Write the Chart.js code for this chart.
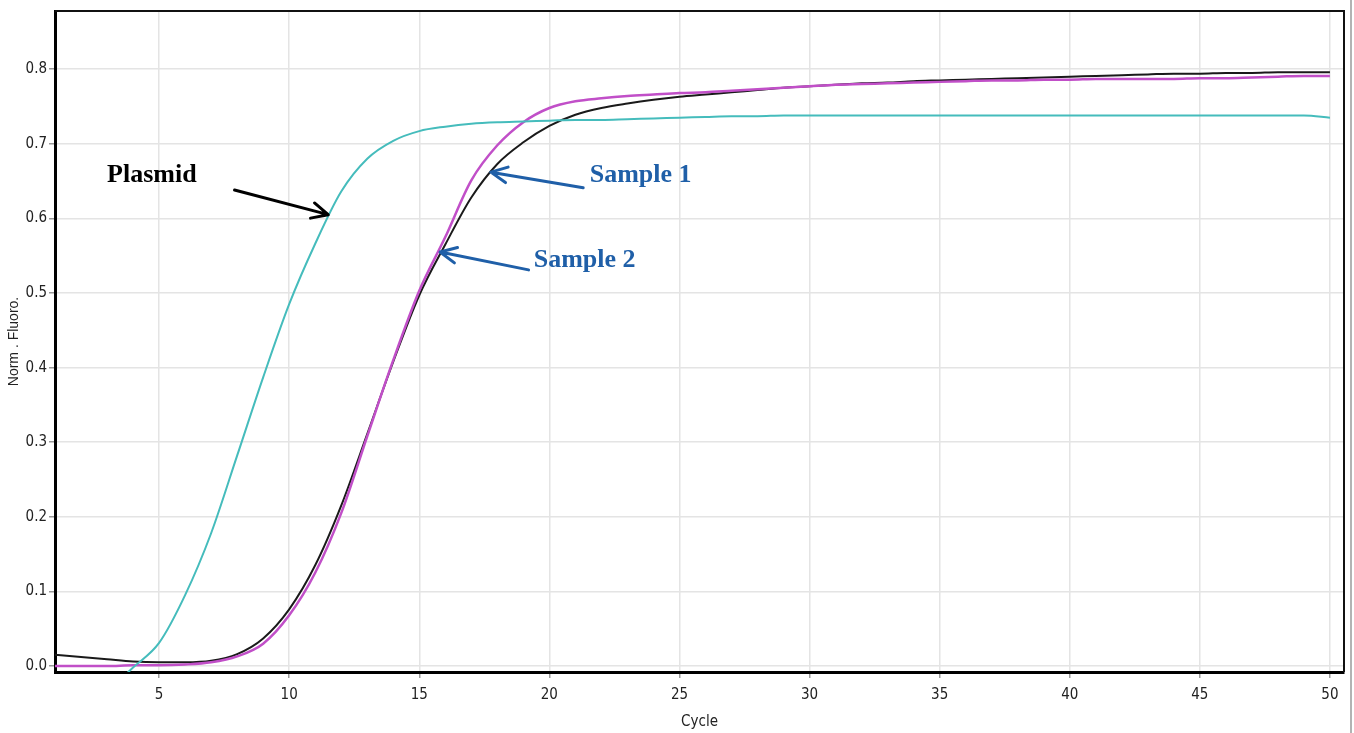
<!DOCTYPE html>
<html>
<head>
<meta charset="utf-8">
<script src="https://cdn.jsdelivr.net/npm/chart.js@4.4.1/dist/chart.umd.min.js"></script>
<style>
  html, body { margin: 0; padding: 0; background: #fff; }
  #wrap { width: 1354px; height: 733px; position: relative; }
</style>
</head>
<body>
<div id="wrap"><canvas id="qpcrChart"></canvas></div>
<script>
const cycles = [];
for (let c = 1; c <= 50; c++) cycles.push(c);

// one value per cycle
const plasmid = [
  null, null, -0.035, -0.002, 0.031, 0.095, 0.178, 0.282, 0.387, 0.485,
  0.566, 0.636, 0.680, 0.704, 0.717, 0.723, 0.727, 0.729, 0.730, 0.731,
  0.732, 0.732, 0.733, 0.734, 0.735, 0.736, 0.737, 0.737, 0.738, 0.738,
  0.738, 0.738, 0.738, 0.738, 0.738, 0.738, 0.738, 0.738, 0.738, 0.738,
  0.738, 0.738, 0.738, 0.738, 0.738, 0.738, 0.738, 0.738, 0.738, 0.735
];
const sample1 = [
  0.015, 0.012, 0.009, 0.006, 0.005, 0.005, 0.007, 0.016, 0.037, 0.076,
  0.135, 0.215, 0.311, 0.408, 0.497, 0.565, 0.628, 0.673, 0.702, 0.724,
  0.739, 0.748, 0.754, 0.759, 0.763, 0.766, 0.769, 0.772, 0.775, 0.777,
  0.779, 0.781, 0.782, 0.784, 0.785, 0.786, 0.787, 0.788, 0.789, 0.790,
  0.791, 0.792, 0.793, 0.794, 0.794, 0.795, 0.795, 0.796, 0.796, 0.796
];
const sample2 = [
  0.000, 0.000, 0.000, 0.001, 0.001, 0.002, 0.005, 0.013, 0.030, 0.068,
  0.125, 0.205, 0.308, 0.410, 0.503, 0.575, 0.651, 0.698, 0.729, 0.748,
  0.757, 0.761, 0.764, 0.766, 0.768, 0.769, 0.771, 0.773, 0.775, 0.777,
  0.779, 0.780, 0.781, 0.782, 0.783, 0.784, 0.785, 0.785, 0.786, 0.786,
  0.787, 0.787, 0.787, 0.787, 0.788, 0.788, 0.789, 0.790, 0.791, 0.791
];

// labels with arrows, placed in data units (cycle, fluorescence)
const notes = [
  { text: 'Plasmid',  color: '#000000', at: [3.0, 0.658],   from: [7.9, 0.638],  to: [11.5, 0.605] },
  { text: 'Sample 1', color: '#1f5fa8', at: [21.55, 0.658], from: [21.3, 0.641], to: [17.75, 0.662] },
  { text: 'Sample 2', color: '#1f5fa8', at: [19.4, 0.544],  from: [19.2, 0.531], to: [15.8, 0.555] }
];

const pts = arr => cycles.map((c, i) => ({ x: c, y: arr[i] }));

const tickFont = { family: "'Liberation Sans Narrow', 'DejaVu Sans Condensed', Arial, sans-serif", size: 15 };

const notesPlugin = {
  id: 'notes',
  afterDatasetsDraw(chart) {
    const { ctx, scales: { x, y } } = chart;
    ctx.save();
    notes.forEach(n => {
      const fx = x.getPixelForValue(n.from[0]), fy = y.getPixelForValue(n.from[1]);
      const tx = x.getPixelForValue(n.to[0]), ty = y.getPixelForValue(n.to[1]);
      ctx.strokeStyle = n.color;
      ctx.lineWidth = 3;
      ctx.lineCap = 'round';
      ctx.lineJoin = 'round';
      ctx.beginPath();
      ctx.moveTo(fx, fy);
      ctx.lineTo(tx, ty);
      const ang = Math.atan2(ty - fy, tx - fx);
      const head = 18;
      ctx.moveTo(tx - head * Math.cos(ang - 0.45), ty - head * Math.sin(ang - 0.45));
      ctx.lineTo(tx, ty);
      ctx.lineTo(tx - head * Math.cos(ang + 0.45), ty - head * Math.sin(ang + 0.45));
      ctx.stroke();

      ctx.fillStyle = n.color;
      ctx.font = "bold 26px 'Liberation Serif', 'Times New Roman', serif";
      ctx.textBaseline = 'middle';
      ctx.textAlign = 'left';
      ctx.fillText(n.text, x.getPixelForValue(n.at[0]), y.getPixelForValue(n.at[1]));
    });
    ctx.restore();
  },
  afterDraw(chart) {
    const { ctx, chartArea: a } = chart;
    ctx.save();
    ctx.strokeStyle = '#111';
    ctx.lineWidth = 2;
    ctx.beginPath();
    ctx.moveTo(a.left, a.top);
    ctx.lineTo(a.right, a.top);
    ctx.lineTo(a.right, a.bottom);
    ctx.stroke();
    ctx.strokeStyle = '#9a9a9a';
    ctx.lineWidth = 1.5;
    ctx.beginPath();
    ctx.moveTo(chart.width - 3, 0);
    ctx.lineTo(chart.width - 3, chart.height);
    ctx.stroke();
    ctx.restore();
  }
};

new Chart(document.getElementById('qpcrChart'), {
  type: 'line',
  data: {
    datasets: [
      { label: 'Plasmid', data: pts(plasmid), borderColor: '#45bcbc', borderWidth: 2, spanGaps: false },
      { label: 'Sample 2', data: pts(sample2), borderColor: '#c14fc8', borderWidth: 2.5 },
      { label: 'Sample 1', data: pts(sample1), borderColor: '#1a1a1a', borderWidth: 2 }
    ]
  },
  options: {
    responsive: true,
    maintainAspectRatio: false,
    animation: false,
    cubicInterpolationMode: 'monotone',
    elements: { point: { radius: 0 } },
    layout: { padding: { top: 10, right: 10, left: 0, bottom: 0 } },
    plugins: {
      legend: { display: false },
      tooltip: { enabled: false }
    },
    scales: {
      x: {
        type: 'linear',
        min: 1,
        max: 50.54,
        afterFit: s => { s.height = 61; },
        ticks: { stepSize: 5, includeBounds: false, color: '#222', font: tickFont, padding: 8, maxRotation: 0 },
        grid: { color: '#e4e4e4', lineWidth: 1.5, tickLength: 6, tickColor: '#999' },
        border: { color: '#000', width: 3 },
        title: { display: true, text: 'Cycle', color: '#222', font: tickFont, padding: { top: 0, bottom: 2 } }
      },
      y: {
        min: -0.008,
        max: 0.878,
        afterFit: s => { s.width = 55; },
        ticks: { stepSize: 0.1, includeBounds: false, color: '#222', font: tickFont, padding: 2,
                 callback: v => v.toFixed(1) },
        grid: { color: '#e4e4e4', lineWidth: 1.5, tickLength: 6, tickColor: '#999' },
        border: { color: '#000', width: 3 },
        title: { display: true, text: 'Norm . Fluoro.', color: '#222',
                 font: { family: 'Arial, Liberation Sans, sans-serif', size: 14 }, padding: { top: 6, bottom: 0 } }
      }
    }
  },
  plugins: [notesPlugin]
});
</script>
</body>
</html>
